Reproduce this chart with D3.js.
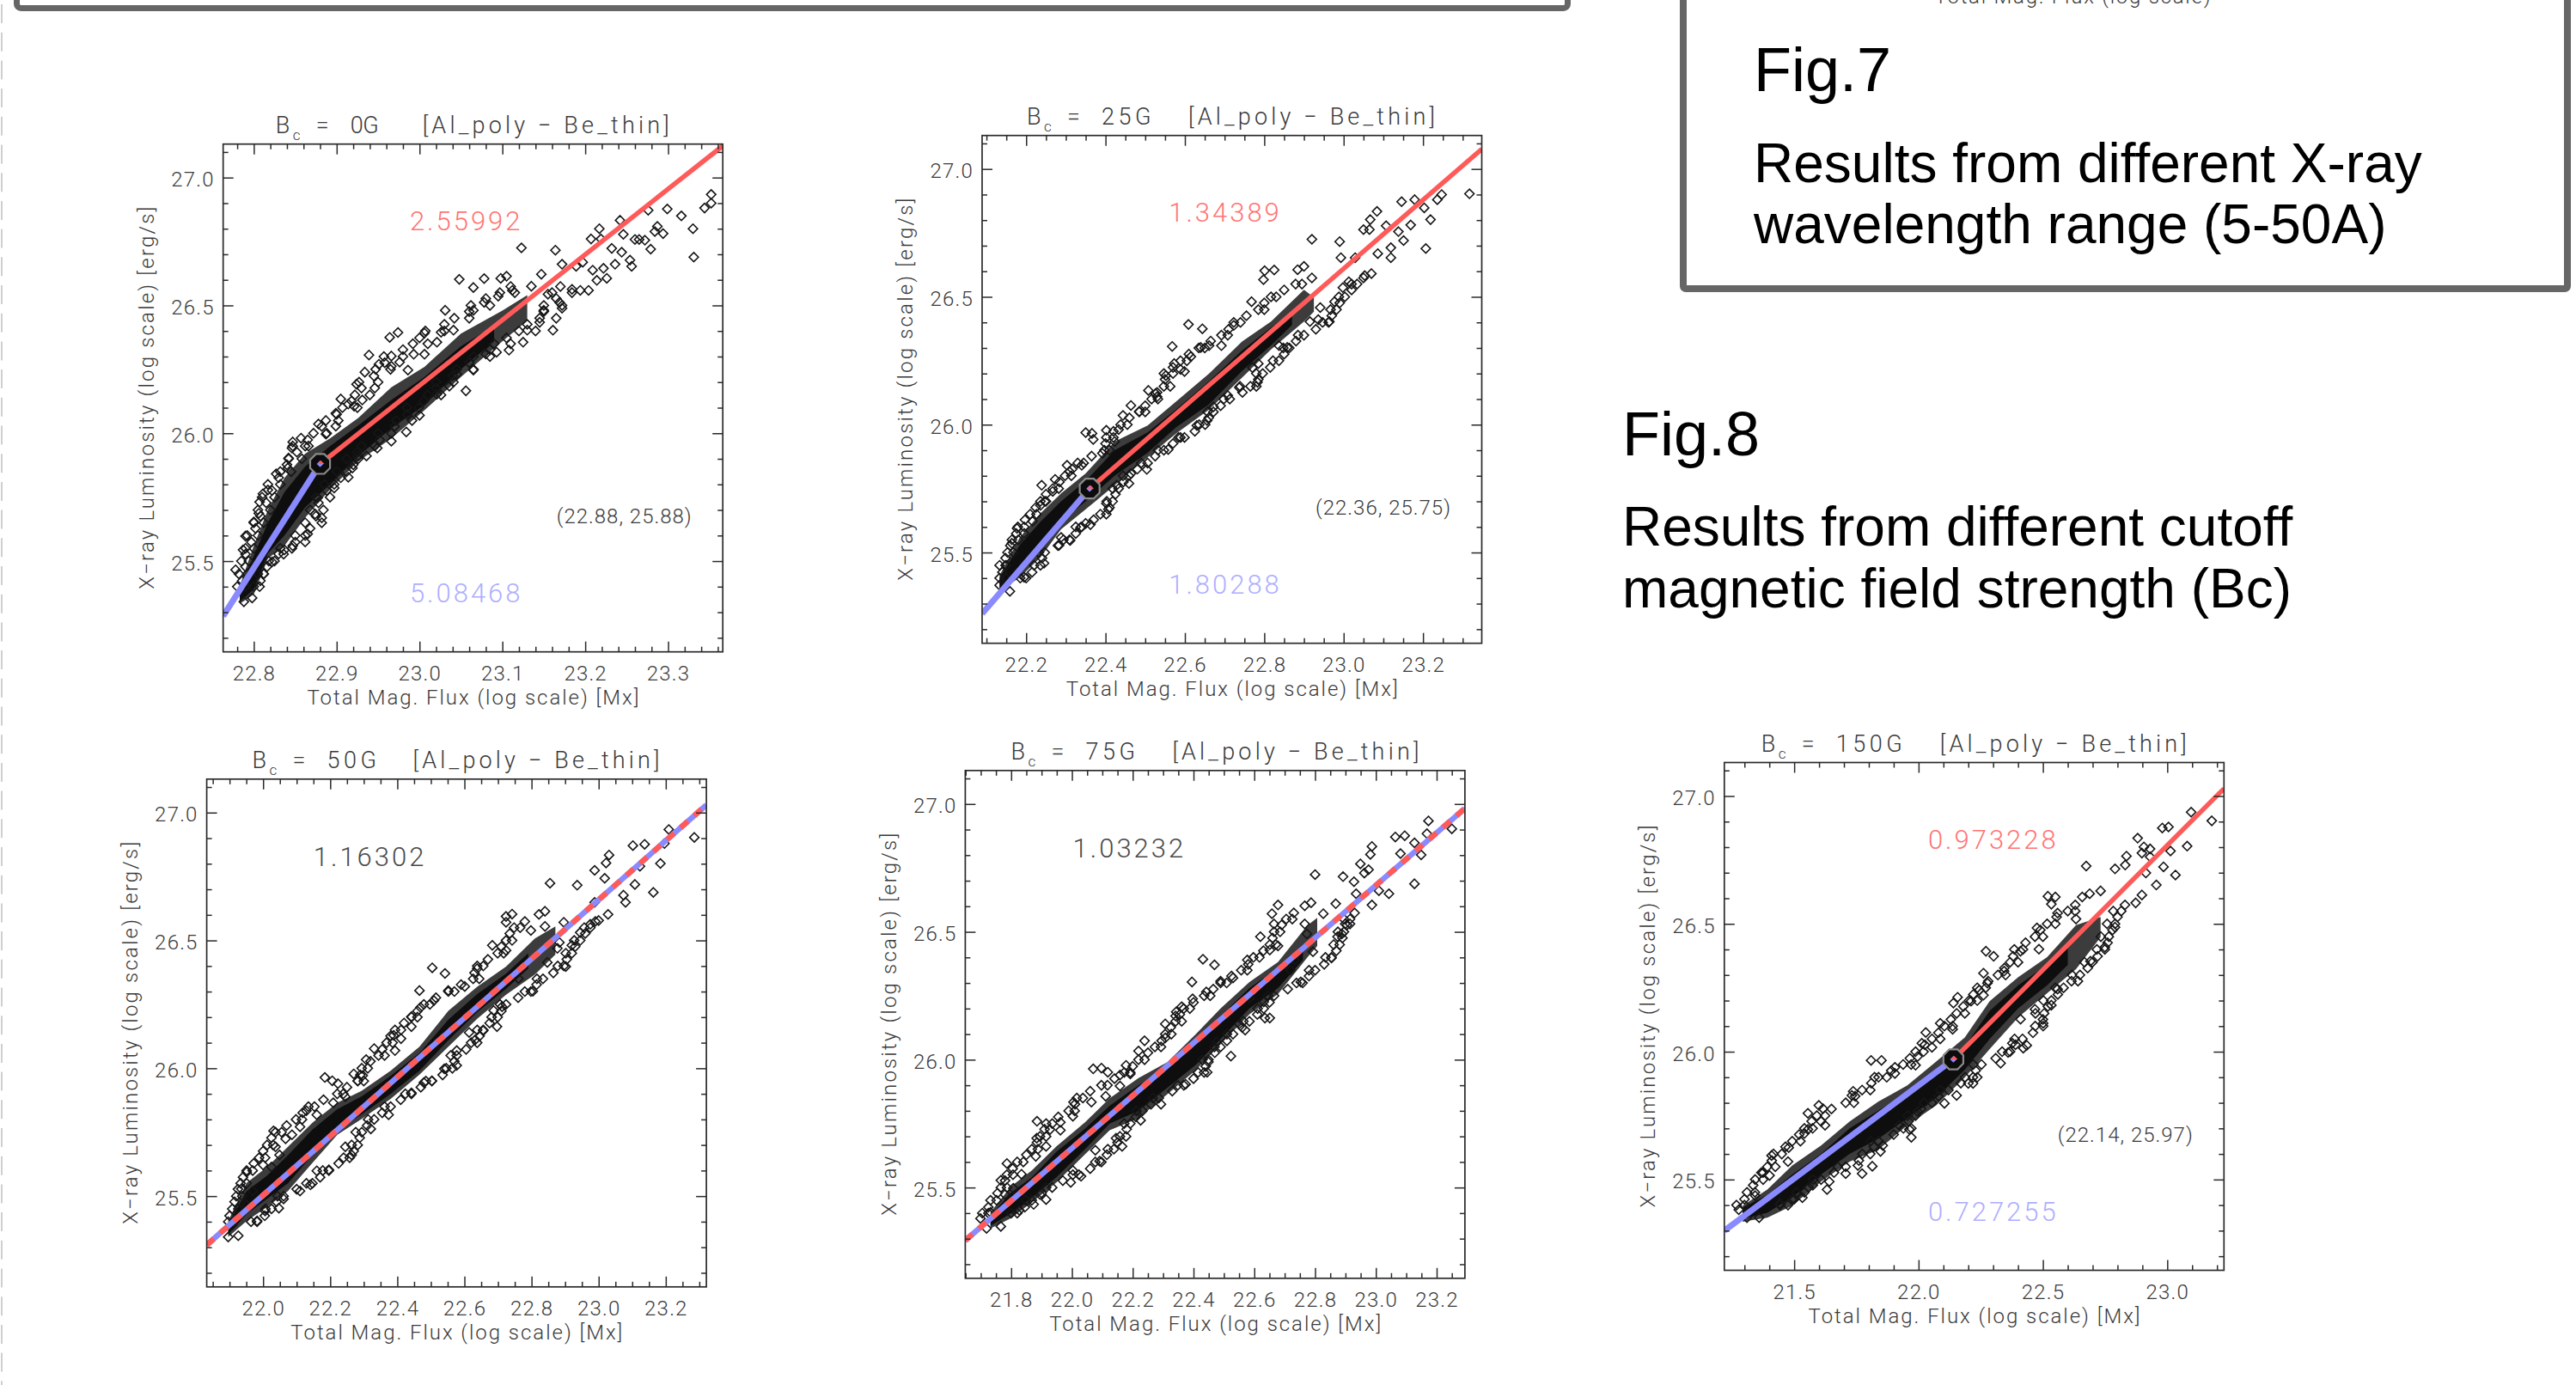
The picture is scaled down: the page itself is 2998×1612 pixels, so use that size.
<!DOCTYPE html>
<html><head><meta charset="utf-8">
<style>
html,body{margin:0;padding:0;background:#fff;overflow:hidden}
svg{display:block}
text{font-family:"Liberation Sans",Arial,sans-serif}
.h{font-family:"Roboto","Liberation Sans",sans-serif;font-weight:300;fill:#3a3a3a}
</style>
<script src="https://cdn.jsdelivr.net/npm/d3@7"></script>
</head><body>
<script>
// ---------- values ----------
const xTitle = "Total Mag. Flux (log scale) [Mx]";
const yTitle = "X\u2212ray Luminosity (log scale) [erg/s]";
const filterPair = "[Al_poly \u2212 Be_thin]";
const yDomain = [25.145, 27.131];
const yMajor = [25.5, 26.0, 26.5, 27.0];

const points0G = [[23.352,26.934],[23.344,26.881],[23.352,26.9],[23.33,26.8],[23.316,26.85],[23.299,26.877],[23.276,26.872],[23.331,26.689],[23.294,26.781],[23.287,26.809],[23.284,26.789],[23.279,26.72],[23.272,26.755],[23.265,26.758],[23.26,26.758],[23.256,26.653],[23.254,26.677],[23.242,26.833],[23.217,26.8],[23.207,26.76],[23.219,26.76],[23.246,26.778],[23.244,26.708],[23.236,26.661],[23.226,26.606],[23.232,26.723],[23.214,26.598],[23.204,26.559],[23.194,26.559],[23.184,26.563],[23.222,26.645],[23.209,26.638],[23.197,26.669],[23.189,26.653],[23.161,26.403],[23.172,26.489],[23.164,26.716],[23.123,26.725],[23.172,26.661],[23.147,26.622],[23.105,26.614],[23.098,26.606],[23.078,26.605],[23.048,26.602],[23.065,26.57],[23.031,26.481],[22.974,26.394],[22.964,26.375],[22.939,26.306],[22.934,26.239],[22.924,26.192],[23.056,26.166],[23,26.07],[22.905,26.134],[22.914,26.114],[22.878,26.036],[22.899,26.078],[22.857,25.981],[22.847,25.966],[22.846,25.942],[22.827,25.841],[22.841,25.864],[22.865,25.606],[22.882,25.669],[22.874,25.684],[22.847,25.56],[22.83,25.528],[22.811,25.763],[22.806,25.687],[22.79,25.598],[22.787,25.544],[22.914,25.828],[22.919,25.864],[22.936,25.911],[22.949,25.942],[22.966,25.969],[22.984,26.005],[23.026,26.395],[23.006,26.392],[22.993,26.309],[22.966,26.302],[22.951,26.27],[22.976,26.278],[23.125,26.356],[23.145,26.434],[23.13,26.403],[23.08,26.31],[23.093,26.317],[23.108,26.325],[23.065,26.247],[23.045,26.231],[23.036,26.184],[23.021,26.153],[22.926,25.911],[22.897,25.786],[22.877,25.747],[22.862,25.575],[22.837,25.544],[22.822,25.497],[22.812,25.45],[22.798,25.356],[22.788,25.341],[22.778,25.466],[22.8,25.653],[22.807,25.731],[22.817,25.778],[22.842,25.903],[22.862,25.95],[22.887,25.997],[22.899,26.028],[22.921,26.106],[22.931,26.13],[22.946,26.177],[22.966,26.262],[22.986,26.247],[23.006,26.309],[23.021,26.356],[23.041,26.403],[23.065,26.481],[23.078,26.512],[23.095,26.536],[23.112,26.559],[23.135,26.575],[23.155,26.544],[23.169,26.512],[23.15,26.481]];
const core0G = [[22.783,25.39,25.34],[22.8,25.52,25.39],[22.817,25.65,25.53],[22.837,25.77,25.6],[22.862,25.87,25.71],[22.892,25.95,25.8],[22.926,26.03,25.91],[22.966,26.13,26.02],[23.006,26.22,26.11],[23.05,26.34,26.25],[23.09,26.42,26.36]];
const wide0G = [[22.783,25.403,25.333],[22.8,25.56,25.37],[22.817,25.7,25.51],[22.837,25.825,25.56],[22.862,25.92,25.67],[22.892,25.98,25.78],[22.926,26.06,25.89],[22.966,26.18,25.98],[23.006,26.26,26.09],[23.05,26.39,26.22],[23.1,26.48,26.36],[23.13,26.54,26.44]];
const rows0G = [[25.4,22.78,22.79,22.8,22.807],[25.45,22.782,22.792,22.805,22.812],[25.5,22.785,22.794,22.818,22.825],[25.55,22.79,22.8,22.832,22.846],[25.6,22.792,22.805,22.85,22.862],[25.65,22.8,22.812,22.862,22.882],[25.7,22.805,22.82,22.868,22.884],[25.75,22.81,22.825,22.875,22.892],[25.8,22.817,22.832,22.885,22.897],[25.85,22.832,22.845,22.9,22.912],[25.9,22.842,22.858,22.912,22.926],[25.95,22.847,22.866,22.93,22.946],[26,22.872,22.888,22.95,22.966],[26.05,22.887,22.902,22.972,22.991],[26.1,22.907,22.925,22.985,22.999],[26.15,22.922,22.94,23.01,23.026],[26.2,22.927,22.95,23.02,23.041],[26.25,22.947,22.965,23.045,23.065],[26.3,22.957,22.98,23.065,23.085],[26.35,22.992,23.01,23.09,23.11],[26.4,23.007,23.03,23.12,23.14],[26.45,23.042,23.06,23.145,23.165],[26.5,23.062,23.085,23.15,23.172],[26.55,23.097,23.115,23.16,23.184],
[25.423,22.786,22.808],[25.478,22.79,22.816],[25.527,22.79,22.836],[25.574,22.797,22.85],[25.628,22.802,22.868],[25.676,22.808,22.875],[25.728,22.815,22.878],[25.776,22.822,22.888],[25.826,22.83,22.905],[25.877,22.84,22.92],[25.926,22.852,22.925],[25.974,22.865,22.952],[26.027,22.882,22.97],[26.074,22.9,22.985],[26.126,22.918,23.005],[26.177,22.93,23.02],[26.224,22.945,23.04],[26.276,22.958,23.06],[26.327,22.98,23.085],[26.373,23,23.105],[26.426,23.03,23.13],[26.476,23.06,23.15],[26.527,23.08,23.165],[26.574,23.11,23.17]];

const points25G = [[23.317,26.903],[23.247,26.9],[23.236,26.88],[23.179,26.88],[23.146,26.872],[23.203,26.848],[23.219,26.802],[23.207,26.689],[23.084,26.834],[23.067,26.802],[23.151,26.72],[23.169,26.781],[23.138,26.755],[23.119,26.692],[23.119,26.653],[23.107,26.778],[23.086,26.669],[23.07,26.591],[23.053,26.583],[23.065,26.763],[22.99,26.716],[22.92,26.725],[23.05,26.763],[23.029,26.653],[22.993,26.653],[22.998,26.536],[22.977,26.481],[22.964,26.403],[22.936,26.411],[22.9,26.619],[22.884,26.606],[22.825,26.605],[22.801,26.602],[22.798,26.567],[22.768,26.481],[22.609,26.392],[22.644,26.375],[22.568,26.306],[22.615,26.266],[22.573,26.239],[22.552,26.192],[22.783,26.166],[22.737,26.145],[22.656,26.016],[22.672,26.07],[22.508,26.134],[22.53,26.109],[22.464,26.075],[22.444,26.036],[22.485,26.052],[22.402,25.978],[22.366,25.966],[22.35,25.969],[22.369,25.942],[22.303,25.841],[22.239,25.763],[22.273,25.786],[22.247,25.7],[22.177,25.594],[22.164,25.536],[22.245,25.458],[22.283,25.528],[22.311,25.547],[22.337,25.598],[22.362,25.609],[22.407,25.669],[22.402,25.692],[22.459,25.77],[22.504,25.825],[22.558,25.903],[22.589,25.95],[22.63,25.997],[22.837,26.309],[22.858,26.302],[22.785,26.239],[22.77,26.223],[22.708,26.114],[22.739,26.15],[22.915,26.403],[23.013,26.559],[22.941,26.458],[22.723,26.388],[22.661,26.309],[22.64,26.302],[22.692,26.309],[22.599,26.208],[22.589,26.216],[22.526,26.122],[22.433,25.981],[22.423,25.934],[22.392,25.888],[22.34,25.841],[22.309,25.817],[22.267,25.739],[22.236,25.684],[22.216,25.622],[22.195,25.575],[22.148,25.45],[22.133,25.372],[22.159,25.348],[22.195,25.403],[22.288,25.559],[22.35,25.614],[22.428,25.763],[22.464,25.809]];
const core25G = [[22.133,25.4,25.355],[22.184,25.53,25.43],[22.236,25.62,25.51],[22.288,25.7,25.62],[22.35,25.78,25.7],[22.423,25.9,25.8],[22.506,25.97,25.89],[22.578,26.06,25.99],[22.661,26.17,26.08],[22.744,26.29,26.21],[22.817,26.38,26.31],[22.87,26.44,26.39]];
const wide25G = [[22.133,25.41,25.348],[22.184,25.559,25.403],[22.236,25.653,25.481],[22.288,25.731,25.591],[22.35,25.809,25.669],[22.423,25.934,25.763],[22.506,25.997,25.872],[22.578,26.091,25.966],[22.661,26.2,26.059],[22.744,26.325,26.184],[22.817,26.403,26.294],[22.9,26.528,26.403],[22.925,26.497,26.442]];
const rows25G = [[25.4,22.133,22.148,22.185,22.2],[25.45,22.133,22.15,22.22,22.236],[25.5,22.153,22.168,22.232,22.247],[25.55,22.164,22.18,22.294,22.309],[25.6,22.179,22.195,22.325,22.34],[25.65,22.21,22.226,22.387,22.402],[25.7,22.236,22.25,22.403,22.418],[25.75,22.267,22.282,22.418,22.433],[25.8,22.298,22.314,22.444,22.459],[25.85,22.33,22.345,22.49,22.506],[25.9,22.397,22.41,22.532,22.547],[25.95,22.402,22.42,22.584,22.599],[26,22.438,22.455,22.636,22.651],[26.05,22.485,22.5,22.657,22.672],[26.1,22.516,22.532,22.698,22.713],[26.15,22.547,22.563,22.765,22.78],[26.2,22.547,22.57,22.78,22.796],[26.25,22.589,22.605,22.822,22.837],[26.3,22.635,22.65,22.848,22.863],[26.35,22.692,22.708,22.885,22.9],[26.4,22.723,22.74,22.947,22.962],[26.45,22.785,22.8,22.967,22.982],[26.5,22.817,22.83,22.988,23.003],[26.55,22.879,22.895,23.02,23.034],
[25.423,22.14,22.215],[25.478,22.148,22.24],[25.527,22.16,22.28],[25.574,22.175,22.325],[25.628,22.197,22.37],[25.676,22.224,22.41],[25.728,22.25,22.425],[25.776,22.284,22.445],[25.826,22.316,22.48],[25.877,22.365,22.525],[25.926,22.4,22.57],[25.974,22.42,22.625],[26.027,22.46,22.66],[26.074,22.5,22.69],[26.126,22.53,22.745],[26.177,22.55,22.785],[26.224,22.57,22.815],[26.276,22.61,22.85],[26.327,22.665,22.88],[26.373,22.71,22.93],[26.426,22.755,22.97],[26.476,22.8,22.99],[26.527,22.85,23.02],[26.574,22.92,23.05]];

const points50G = [[23.285,26.903],[23.209,26.934],[23.196,26.879],[23.137,26.876],[23.102,26.871],[23.184,26.801],[23.163,26.688],[23.031,26.834],[23.022,26.803],[23.108,26.719],[23.123,26.79],[23.08,26.649],[23.074,26.677],[23.028,26.602],[23,26.578],[22.936,26.716],[22.855,26.724],[22.945,26.531],[22.92,26.481],[22.902,26.398],[22.877,26.469],[22.84,26.614],[22.822,26.602],[22.742,26.603],[22.724,26.594],[22.724,26.571],[22.683,26.481],[22.504,26.393],[22.542,26.371],[22.466,26.304],[22.509,26.265],[22.469,26.238],[22.442,26.202],[22.697,26.163],[22.656,26.147],[22.577,26.011],[22.577,26.069],[22.503,25.951],[22.54,25.998],[22.389,26.129],[22.331,26.077],[22.307,26.034],[22.27,25.978],[22.297,25.972],[22.184,25.964],[22.206,25.951],[22.223,25.94],[22.129,25.834],[22.031,25.755],[22.067,25.724],[22.037,25.693],[21.951,25.594],[21.935,25.528],[22.047,25.453],[22.006,25.442],[22.11,25.52],[22.141,25.544],[22.196,25.603],[22.16,25.599],[22.264,25.661],[22.245,25.693],[22.321,25.763],[22.374,25.818],[22.442,25.904],[22.479,25.944],[22.761,26.351],[22.804,26.301],[22.712,26.241],[22.687,26.226],[22.632,26.111],[22.614,26.14],[22.847,26.414],[22.975,26.563],[22.883,26.492],[22.773,26.39],[22.638,26.39],[22.601,26.32],[22.552,26.304],[22.442,26.163],[22.411,26.116],[22.393,26.069],[22.282,25.951],[22.245,25.889],[22.209,25.865],[22.16,25.818],[22.11,25.771],[22.086,25.74],[22.049,25.661],[22.025,25.614],[22,25.622],[21.969,25.52],[21.951,25.466],[21.908,25.387],[21.926,25.345],[21.896,25.34],[21.982,25.403],[22.061,25.489],[22.724,26.461],[22.798,26.539],[22.84,26.555],[22.896,26.571],[22.988,26.649],[23.018,26.743],[22.988,26.774]];
const core50G = [[21.896,25.39,25.35],[21.951,25.52,25.43],[22.012,25.58,25.49],[22.074,25.66,25.55],[22.147,25.76,25.66],[22.221,25.84,25.76],[22.294,25.89,25.82],[22.38,25.97,25.9],[22.466,26.06,25.99],[22.552,26.19,26.11],[22.638,26.29,26.22],[22.724,26.37,26.31],[22.79,26.45,26.39]];
const wide50G = [[21.896,25.403,25.34],[21.951,25.552,25.403],[22.012,25.614,25.458],[22.074,25.693,25.52],[22.147,25.787,25.63],[22.221,25.865,25.74],[22.294,25.912,25.802],[22.38,25.99,25.88],[22.466,26.084,25.975],[22.552,26.225,26.084],[22.638,26.319,26.194],[22.724,26.398,26.288],[22.81,26.508,26.367],[22.871,26.555,26.445]];
const rows50G = [[25.4,21.896,21.914,21.964,21.982],[25.45,21.908,21.926,22.007,22.025],[25.5,21.92,21.938,22.043,22.061],[25.55,21.933,21.951,22.129,22.147],[25.6,21.951,21.969,22.178,22.196],[25.65,21.988,22.006,22.24,22.258],[25.7,22.012,22.03,22.264,22.282],[25.75,22.037,22.055,22.276,22.294],[25.8,22.098,22.116,22.313,22.331],[25.85,22.135,22.153,22.362,22.38],[25.9,22.221,22.239,22.424,22.442],[25.95,22.282,22.3,22.485,22.503],[26,22.294,22.312,22.546,22.564],[26.05,22.344,22.362,22.559,22.577],[26.1,22.368,22.386,22.62,22.638],[26.15,22.393,22.411,22.638,22.656],[26.2,22.442,22.46,22.681,22.699],[26.25,22.479,22.497,22.706,22.724],[26.3,22.552,22.57,22.78,22.798],[26.35,22.626,22.644,22.816,22.834],[26.4,22.638,22.656,22.878,22.896],[26.45,22.699,22.717,22.902,22.92],[26.5,22.724,22.742,22.927,22.945],[26.55,22.748,22.766,22.957,22.975],
[25.423,21.9,22.005],[25.478,21.915,22.04],[25.527,21.925,22.1],[25.574,21.94,22.17],[25.628,21.972,22.225],[25.676,22,22.27],[25.728,22.025,22.288],[25.776,22.07,22.31],[25.826,22.118,22.355],[25.877,22.18,22.41],[25.926,22.25,22.47],[25.974,22.29,22.535],[26.027,22.32,22.57],[26.074,22.355,22.605],[26.126,22.38,22.645],[26.177,22.42,22.675],[26.224,22.46,22.71],[26.276,22.515,22.76],[26.327,22.59,22.815],[26.373,22.63,22.865],[26.426,22.67,22.905],[26.476,22.71,22.93],[26.527,22.735,22.96],[26.574,22.78,22.99]];

const points75G = [[23.25,26.903],[23.173,26.934],[23.168,26.884],[23.095,26.876],[23.064,26.871],[23.127,26.848],[23.149,26.801],[23.127,26.688],[22.987,26.834],[22.982,26.803],[23.081,26.806],[22.892,26.716],[22.8,26.724],[23.043,26.649],[23.01,26.661],[22.987,26.605],[22.962,26.73],[22.928,26.696],[22.949,26.766],[22.899,26.531],[22.874,26.481],[22.854,26.398],[22.787,26.614],[22.766,26.602],[22.678,26.605],[22.658,26.571],[22.665,26.531],[22.62,26.481],[22.431,26.393],[22.469,26.371],[22.395,26.304],[22.442,26.265],[22.397,26.238],[22.361,26.207],[22.343,26.187],[22.651,26.163],[22.635,26.163],[22.523,26.014],[22.476,26.069],[22.445,25.951],[22.239,26.074],[22.219,26.034],[22.178,25.978],[22.158,25.94],[22.07,25.964],[22.097,25.967],[22.118,25.951],[22.005,25.834],[21.885,25.759],[21.928,25.727],[21.962,25.755],[21.884,25.693],[21.786,25.594],[21.766,25.528],[21.915,25.453],[21.874,25.434],[21.996,25.52],[22.03,25.544],[22.091,25.603],[22.165,25.661],[22.145,25.693],[22.226,25.763],[22.293,25.826],[22.374,25.904],[22.449,25.991],[22.719,26.351],[22.753,26.304],[22.584,26.241],[22.631,26.226],[22.57,26.116],[22.55,26.14],[22.793,26.422],[22.915,26.531],[22.888,26.492],[22.773,26.492],[22.732,26.39],[22.577,26.39],[22.53,26.32],[22.489,26.307],[22.307,26.14],[22.341,26.171],[22.307,26.085],[22.192,25.944],[22.158,25.897],[22.111,25.857],[22.064,25.834],[22.003,25.779],[21.962,25.724],[21.915,25.661],[21.881,25.622],[21.834,25.552],[21.807,25.497],[21.78,25.473],[21.732,25.403],[21.699,25.379],[21.719,25.34],[21.766,25.348],[21.827,25.411],[21.895,25.473],[22.003,25.567],[22.077,25.646],[22.651,26.429],[22.678,26.445],[22.766,26.531],[22.827,26.571],[22.868,26.61],[22.935,26.649],[22.976,26.743]];
const core75G = [[21.732,25.39,25.35],[21.8,25.48,25.4],[21.868,25.54,25.46],[21.949,25.64,25.54],[22.043,25.73,25.65],[22.124,25.82,25.75],[22.219,25.9,25.8],[22.314,25.97,25.89],[22.408,26.08,25.98],[22.489,26.17,26.08],[22.584,26.28,26.2],[22.678,26.36,26.28],[22.76,26.45,26.39]];
const wide75G = [[21.732,25.403,25.34],[21.8,25.505,25.38],[21.868,25.567,25.442],[21.949,25.661,25.52],[22.043,25.755,25.63],[22.124,25.849,25.724],[22.219,25.928,25.771],[22.314,25.99,25.865],[22.408,26.1,25.96],[22.489,26.2,26.06],[22.584,26.304,26.178],[22.678,26.382,26.257],[22.773,26.523,26.398],[22.807,26.555,26.445]];
const rows75G = [[25.4,21.705,21.725,21.8,21.82],[25.45,21.732,21.752,21.848,21.868],[25.5,21.766,21.786,21.915,21.935],[25.55,21.786,21.806,22.003,22.023],[25.6,21.82,21.84,22.077,22.097],[25.65,21.868,21.888,22.118,22.138],[25.7,21.895,21.915,22.158,22.178],[25.75,21.915,21.935,22.172,22.192],[25.8,21.989,22.009,22.212,22.232],[25.85,22.016,22.036,22.266,22.286],[25.9,22.097,22.117,22.348,22.368],[25.95,22.172,22.192,22.415,22.435],[26,22.219,22.239,22.429,22.449],[26.05,22.273,22.293,22.469,22.489],[26.1,22.307,22.327,22.51,22.53],[26.15,22.341,22.361,22.564,22.584],[26.2,22.368,22.388,22.611,22.631],[26.25,22.435,22.455,22.645,22.665],[26.3,22.489,22.509,22.739,22.759],[26.35,22.557,22.577,22.78,22.8],[26.4,22.597,22.617,22.834,22.854],[26.45,22.651,22.671,22.861,22.881],[26.5,22.665,22.685,22.875,22.895],[26.55,22.705,22.725,22.895,22.915],
[25.423,21.725,21.845],[25.478,21.755,21.9],[25.527,21.78,21.97],[25.574,21.805,22.06],[25.628,21.85,22.115],[25.676,21.885,22.15],[25.728,21.91,22.18],[25.776,21.955,22.21],[25.826,22.01,22.26],[25.877,22.06,22.33],[25.926,22.14,22.4],[25.974,22.2,22.44],[26.027,22.25,22.47],[26.074,22.295,22.51],[26.126,22.325,22.56],[26.177,22.355,22.61],[26.224,22.4,22.65],[26.276,22.465,22.71],[26.327,22.525,22.78],[26.373,22.58,22.83],[26.426,22.63,22.87],[26.476,22.66,22.89],[26.527,22.69,22.905],[26.574,22.73,22.93]];

const points150G = [[23.179,26.903],[23.096,26.937],[23.08,26.804],[23.033,26.691],[23.005,26.879],[22.98,26.875],[23.013,26.785],[22.985,26.723],[22.881,26.835],[22.906,26.801],[22.836,26.765],[22.674,26.726],[22.931,26.762],[22.914,26.699],[22.956,26.652],[22.898,26.613],[22.79,26.715],[22.79,26.487],[22.749,26.409],[22.658,26.605],[22.688,26.618],[22.55,26.605],[22.52,26.608],[22.534,26.577],[22.476,26.484],[22.271,26.393],[22.302,26.373],[22.261,26.307],[22.277,26.268],[22.244,26.241],[22.157,26.213],[22.14,26.19],[22.501,26.111],[22.421,26.014],[22.33,25.955],[22.36,25.997],[22.377,26.033],[22.236,25.9],[22.2,25.876],[22.087,26.111],[22.029,26.075],[22.013,26.033],[21.996,25.981],[21.809,25.966],[21.851,25.966],[21.905,25.939],[21.737,25.845],[21.555,25.759],[21.599,25.79],[21.616,25.777],[21.608,25.727],[21.555,25.696],[21.478,25.625],[21.409,25.594],[21.368,25.527],[21.632,25.461],[21.533,25.429],[21.814,25.552],[21.773,25.523],[21.756,25.555],[21.847,25.61],[21.971,25.665],[21.963,25.696],[22.104,25.798],[22.153,25.829],[22.219,25.876],[22.435,26.025],[22.559,26.245],[22.641,26.276],[22.691,26.354],[22.873,26.582],[22.468,26.166],[22.41,26.127],[22.534,26.182],[21.277,25.382],[21.31,25.351],[21.359,25.351],[21.442,25.406],[21.492,25.422],[21.558,25.469],[21.641,25.492],[21.707,25.523],[21.856,25.633],[21.922,25.712],[21.996,25.766],[21.343,25.437],[21.401,25.516],[21.475,25.57],[21.541,25.68],[21.624,25.712],[21.732,25.829],[21.823,25.9],[21.905,25.915],[21.988,25.947],[22.054,26.017],[22.137,26.088],[22.211,26.198],[22.261,26.221],[22.344,26.315],[22.41,26.393],[22.484,26.401],[22.559,26.542],[22.633,26.519],[22.732,26.629],[22.831,26.73],[22.898,26.777],[22.931,26.793]];
const core150G = [[21.293,25.39,25.345],[21.392,25.44,25.37],[21.492,25.52,25.43],[21.608,25.6,25.52],[21.723,25.7,25.6],[21.839,25.77,25.66],[21.955,25.84,25.74],[22.071,25.93,25.82],[22.186,26.02,25.93],[22.286,26.16,26.05],[22.401,26.26,26.17],[22.517,26.34,26.26],[22.6,26.42,26.34]];
const wide150G = [[21.293,25.398,25.335],[21.392,25.461,25.351],[21.492,25.555,25.398],[21.608,25.633,25.492],[21.723,25.727,25.57],[21.839,25.805,25.617],[21.955,25.868,25.712],[22.071,25.962,25.79],[22.186,26.056,25.899],[22.286,26.198,26.01],[22.401,26.292,26.135],[22.517,26.37,26.229],[22.633,26.495,26.323],[22.732,26.527,26.448]];
const rows150G = [[25.4,21.268,21.3,21.443,21.475],[25.45,21.31,21.342,21.509,21.541],[25.5,21.343,21.375,21.576,21.608],[25.55,21.392,21.424,21.675,21.707],[25.6,21.417,21.45,21.774,21.806],[25.65,21.492,21.525,21.807,21.839],[25.7,21.541,21.574,21.939,21.971],[25.75,21.591,21.624,21.956,21.988],[25.8,21.707,21.74,22.022,22.054],[25.85,21.773,21.806,22.088,22.12],[25.9,21.839,21.872,22.187,22.219],[25.95,21.938,21.97,22.22,22.253],[26,21.988,22.02,22.336,22.368],[26.05,22.054,22.087,22.386,22.418],[26.1,22.104,22.137,22.469,22.501],[26.15,22.153,22.186,22.47,22.505],[26.2,22.203,22.236,22.502,22.534],[26.25,22.236,22.27,22.55,22.583],[26.3,22.319,22.35,22.617,22.649],[26.35,22.368,22.4,22.667,22.699],[26.4,22.385,22.42,22.717,22.749],[26.45,22.468,22.5,22.733,22.765],[26.5,22.517,22.55,22.758,22.79],[26.55,22.6,22.63,22.783,22.815],
[25.423,21.3,21.5],[25.478,21.335,21.575],[25.527,21.375,21.66],[25.574,21.41,21.76],[25.628,21.465,21.82],[25.676,21.52,21.9],[25.728,21.57,21.96],[25.776,21.65,22.01],[25.826,21.745,22.08],[25.877,21.81,22.17],[25.926,21.89,22.23],[25.974,21.965,22.31],[26.027,22.025,22.39],[26.074,22.08,22.46],[26.126,22.13,22.5],[26.177,22.18,22.52],[26.224,22.22,22.56],[26.276,22.28,22.615],[26.327,22.345,22.68],[26.373,22.38,22.72],[26.426,22.43,22.76],[26.476,22.49,22.78],[26.527,22.555,22.8],[26.574,22.63,22.83]];

// panel settings: frame position, axis range, tick steps, fits
const panels = [
 {bc:"0G",  left:259.7, top:167.7, xDom:[22.763,23.366], major:[22.8,22.9,23.0,23.1,23.2,23.3], minorStep:0.02, pts:points0G, rows:rows0G, core:core0G, wide:wide0G, titleAt:61, pairAt:232,
  lowFit:[[22.763,25.285],[22.88,25.88]], highFit:[[22.88,25.88],[23.366,27.124]], brk:[22.88,25.88], brkText:"(22.88, 25.88)", hi:"2.55992", lo:"5.08468", numAt:283},
 {bc:"25G", left:1143,  top:157.7, xDom:[22.089,23.348], major:[22.2,22.4,22.6,22.8,23.0,23.2], minorStep:0.05, pts:points25G, rows:rows25G, core:core25G, wide:wide25G, titleAt:52, pairAt:240,
  lowFit:[[22.089,25.261],[22.36,25.75]], highFit:[[22.36,25.75],[23.348,27.078]], brk:[22.36,25.75], brkText:"(22.36, 25.75)", hi:"1.34389", lo:"1.80288", numAt:283},
 {bc:"50G", left:240.6, top:906.8, xDom:[21.832,23.321], major:[22.0,22.2,22.4,22.6,22.8,23.0,23.2], minorStep:0.05, pts:points50G, rows:rows50G, core:core50G, wide:wide50G, titleAt:53, pairAt:240,
  sameFit:[[21.832,25.309],[23.321,27.03]], one:"1.16302", numAt:190},
 {bc:"75G", left:1123.4,top:896.8, xDom:[21.649,23.293], major:[21.8,22.0,22.2,22.4,22.6,22.8,23.0,23.2], minorStep:0.05, pts:points75G, rows:rows75G, core:core75G, wide:wide75G, titleAt:53, pairAt:241,
  sameFit:[[21.649,25.293],[23.293,26.983]], one:"1.03232", numAt:191},
 {bc:"150G",left:2006.8,top:887.5, xDom:[21.219,23.228], major:[21.5,22.0,22.5,23.0], minorStep:0.1, pts:points150G, rows:rows150G, core:core150G, wide:wide150G, titleAt:43, pairAt:251,
  lowFit:[[21.219,25.3],[22.14,25.97]], highFit:[[22.14,25.97],[23.228,27.029]], brk:[22.14,25.97], brkText:"(22.14, 25.97)", hi:"0.973228", lo:"0.727255", numAt:313}
];
const W = 581.5, H = 591;
const RED = "#ff5a5a", BLUE = "#8a8aff", REDT = "#ff7474", BLUET = "#aeaeff", INK = "#2a2a2a";

// ---------- page ----------
const svg = d3.select("body").append("svg").attr("width",2998).attr("height",1612);
svg.append("rect").attr("width",2998).attr("height",1612).attr("fill","#fff");

// slide edge
svg.append("line").attr("x1",2).attr("x2",2).attr("y1",5).attr("y2",1612)
  .attr("stroke","#cfcfcf").attr("stroke-width",2).attr("stroke-dasharray","22 10.7");

// frames
svg.append("rect").attr("x",19.5).attr("y",-60).attr("width",1805).attr("height",69.5).attr("rx",5)
  .attr("fill","none").attr("stroke","#666").attr("stroke-width",7);
svg.append("rect").attr("x",1959).attr("y",-60).attr("width",1029).attr("height",396).attr("rx",3)
  .attr("fill","none").attr("stroke","#666").attr("stroke-width",8);

const big = (t,x,y,size)=>svg.append("text").attr("x",x).attr("y",y).attr("font-size",size).attr("fill","#000").text(t);
big("Fig.7",2041,106,72);
big("Results from different X-ray",2041,212,64);
big("wavelength range (5-50A)",2041,283,64);
big("Fig.8",1888,530,72);
big("Results from different cutoff",1888,635,64);
big("magnetic field strength (Bc)",1888,707,64);
svg.append("text").attr("class","h").attr("x",2412).attr("y",4).attr("text-anchor","middle")
  .attr("font-size",24).attr("textLength",321).attr("lengthAdjust","spacing").text("Total Mag. Flux (log scale)");

const diamond = (()=>{const p=d3.path();p.moveTo(0,-5.4);p.lineTo(5.4,0);p.lineTo(0,5.4);p.lineTo(-5.4,0);p.closePath();return p.toString();})();
const octagon = (()=>{const p=d3.path();const r=12.5;for(let i=0;i<8;i++){const a=Math.PI/8+i*Math.PI/4;const X=r*Math.cos(a),Y=r*Math.sin(a);i?p.lineTo(X,Y):p.moveTo(X,Y);}p.closePath();return p.toString();})();

panels.forEach((c,i)=>{
  const g = svg.append("g").attr("transform",`translate(${c.left},${c.top})`);
  const x = d3.scaleLinear().domain(c.xDom).range([0,W]);
  const y = d3.scaleLinear().domain(yDomain).range([H,0]);
  const cid = "clip"+i;
  g.append("clipPath").attr("id",cid).append("rect").attr("width",W).attr("height",H);
  const plot = g.append("g").attr("clip-path",`url(#${cid})`);

  // solid parts of the cloud, where the open markers overlap: a grainy band and its black middle
  const band = d3.area().x(d=>x(d[0])).y0(d=>y(d[2])).y1(d=>y(d[1]));
  plot.append("path").datum(c.wide).attr("fill","#3c3c3c").attr("d",band);
  plot.append("path").datum(c.core).attr("fill","#0e0e0e").attr("d",band);
  const allPts = c.pts.concat(c.rows.flatMap(r=>r.slice(1).map(v=>[v,r[0]])));
  plot.selectAll("path.pt").data(allPts).join("path").attr("class","pt").attr("d",diamond)
    .attr("transform",d=>`translate(${x(d[0])},${y(d[1])})`)
    .attr("fill","none").attr("stroke","#161616").attr("stroke-width",1.6);

  const line = d3.line().x(d=>x(d[0])).y(d=>y(d[1]));
  if (c.sameFit){
    plot.append("path").attr("d",line(c.sameFit)).attr("stroke",BLUE).attr("stroke-width",6.5).attr("fill","none");
    plot.append("path").attr("d",line(c.sameFit)).attr("stroke",RED).attr("stroke-width",6.5).attr("fill","none").attr("stroke-dasharray","11 10");
  } else {
    plot.append("path").attr("d",line(c.lowFit)).attr("stroke",BLUE).attr("stroke-width",7).attr("fill","none");
    plot.append("path").attr("d",line(c.highFit)).attr("stroke",RED).attr("stroke-width",5.5).attr("fill","none");
    const m = g.append("g").attr("transform",`translate(${x(c.brk[0])},${y(c.brk[1])})`);
    m.append("path").attr("d",octagon).attr("fill","#0c0c0c").attr("stroke","#8a8a8a").attr("stroke-width",2.2);
    m.append("path").attr("d",d3.symbol(d3.symbolSquare,30)()).attr("transform","rotate(45)").attr("fill",BLUE);
    m.append("path").attr("d","M-4,0L0,-4L4,0Z").attr("transform","translate(1,0)").attr("fill",RED);
  }

  // axes: major and minor ticks pointing in on all four sides
  const minors = d3.range(Math.ceil(c.xDom[0]/c.minorStep),Math.floor(c.xDom[1]/c.minorStep)+1).map(k=>k*c.minorStep)
     .filter(v=>!c.major.some(m=>Math.abs(m-v)<1e-6));
  const yMinor = d3.range(252,272).map(k=>k/10).filter(v=>!yMajor.includes(v) && v>yDomain[0] && v<yDomain[1]);
  const style = s=>{s.select(".domain").remove();s.selectAll(".tick line").attr("stroke",INK).attr("stroke-width",1.5);};
  const fmt = d3.format(".1f");
  const none = ()=>"";
  [[d3.axisBottom,H,true],[d3.axisTop,0,false]].forEach(([ax,off,lab])=>{
    g.append("g").attr("transform",`translate(0,${off})`).call(ax(x).tickValues(minors).tickSize(-6).tickFormat(none)).call(style);
    const a=g.append("g").attr("transform",`translate(0,${off})`).call(ax(x).tickValues(c.major).tickSize(-12).tickFormat(lab?fmt:none)).call(style);
    if(lab) a.selectAll("text").attr("class","h").attr("y",33.5).attr("dy",0).attr("font-size",24).attr("letter-spacing",1.2).attr("fill","#3a3a3a");
  });
  [[d3.axisLeft,0,true],[d3.axisRight,W,false]].forEach(([ax,off,lab])=>{
    g.append("g").attr("transform",`translate(${off},0)`).call(ax(y).tickValues(yMinor).tickSize(-6).tickFormat(none)).call(style);
    const a=g.append("g").attr("transform",`translate(${off},0)`).call(ax(y).tickValues(yMajor).tickSize(-12).tickFormat(lab?fmt:none)).call(style);
    if(lab) a.selectAll("text").attr("class","h").attr("x",-10).attr("dy",0).attr("y",10).attr("font-size",24).attr("letter-spacing",1.2).attr("fill","#3a3a3a");
  });
  g.append("rect").attr("width",W).attr("height",H).attr("fill","none").attr("stroke",INK).attr("stroke-width",1.7);

  // titles
  const tt = g.append("g").attr("transform",`translate(0,-12.6)`);
  const tx = (t,xp,size,dy,len)=>{const e=tt.append("text").attr("class","h").attr("x",xp).attr("y",dy||0).attr("font-size",size).text(t);
     if(len) e.attr("textLength",len).attr("lengthAdjust","spacing");return e;};
  tx("B",c.titleAt,27);
  tx("c",c.titleAt+20,17,8);
  tx("=",c.titleAt+47,27);
  tx(c.bc,c.titleAt+87,27,0,c.bc.length*19.5+ (c.bc.length>2?-1:-6));
  tx(filterPair,c.pairAt,27,0,287);

  g.append("text").attr("class","h").attr("x",W/2).attr("y",H+61.5).attr("text-anchor","middle").attr("font-size",24)
    .attr("textLength",386).attr("lengthAdjust","spacing").text(xTitle);
  g.append("text").attr("class","h").attr("transform",`translate(-80.7,${H/2}) rotate(-90)`).attr("text-anchor","middle").attr("font-size",24)
    .attr("textLength",445).attr("lengthAdjust","spacing").text(yTitle);

  // slope numbers
  const num=(t,yp,col)=>g.append("text").attr("class","h").attr("x",c.numAt).attr("y",yp).attr("text-anchor","middle")
    .attr("font-size",31).attr("letter-spacing",3).style("fill",col).text(t);
  if(c.one){ num(c.one,101,"#4a4a4a"); }
  else {
    num(c.hi,100,REDT); num(c.lo,533.5,BLUET);
    g.append("text").attr("class","h").attr("x",467).attr("y",441).attr("text-anchor","middle").attr("font-size",24)
      .attr("letter-spacing",1).text(c.brkText);
  }
});
</script>
</body></html>
